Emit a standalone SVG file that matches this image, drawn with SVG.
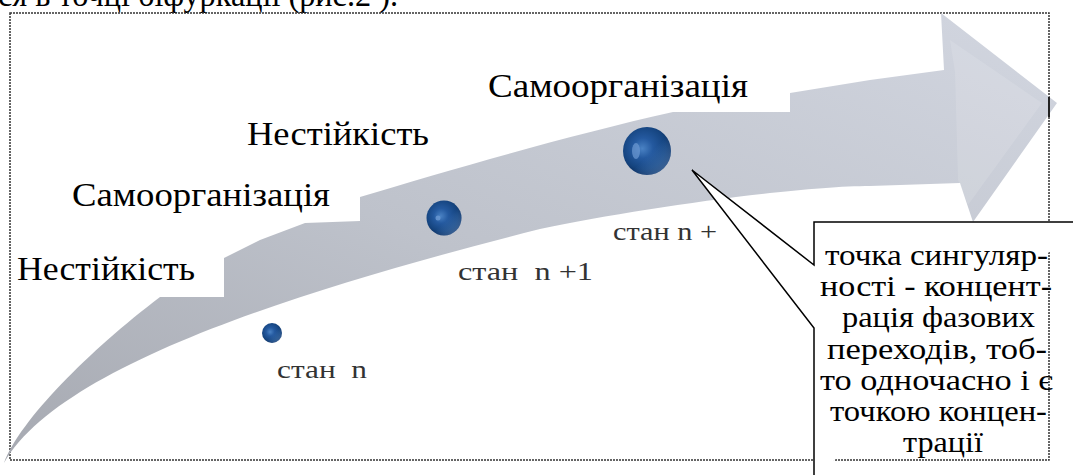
<svg xmlns="http://www.w3.org/2000/svg" width="1073" height="475" viewBox="0 0 1073 475">
  <defs>
    <style>
      text { font-family: "Liberation Serif", "DejaVu Serif", "Noto Serif", "Tinos", serif; }
      .big { font-size: 33px; fill: #000; }
      .small { font-size: 26px; fill: #333; white-space: pre; }
      .call { font-size: 29px; fill: #000; }
      .frame { fill: none; stroke: #333; stroke-width: 1.5; stroke-dasharray: 2 1; }
    </style>
    <linearGradient id="arrowGrad" x1="0" y1="1" x2="1" y2="0">
      <stop offset="0" stop-color="#a6a9b1"/>
      <stop offset="0.45" stop-color="#bec2cb"/>
      <stop offset="1" stop-color="#d2d6e0"/>
    </linearGradient>
    <radialGradient id="ball" cx="0.45" cy="0.42" r="0.6" fx="0.4" fy="0.45">
      <stop offset="0" stop-color="#4a82c4"/>
      <stop offset="0.35" stop-color="#24599f"/>
      <stop offset="0.75" stop-color="#15447f"/>
      <stop offset="1" stop-color="#0c2d5c"/>
    </radialGradient>
    <linearGradient id="rim" x1="0" y1="0" x2="1" y2="1">
      <stop offset="0.55" stop-color="#6fa3e0" stop-opacity="0"/>
      <stop offset="1" stop-color="#8ab8ee" stop-opacity="0.55"/>
    </linearGradient>
  </defs>

  <!-- partially cut text line at top -->
  <text class="big" x="-2" y="6" font-size="30" textLength="400" lengthAdjust="spacingAndGlyphs">ся в точці біфуркації (рис.2 ).</text>

  <!-- frame -->
  <g id="frame">
    <rect class="frame" x="10" y="13" width="1039" height="447"/>
  </g>

  <!-- arrow -->
  <g id="arrow">
    <path fill="url(#arrowGrad)" d="M4,463 C20,420 90,350 160,297 L224,297 L224,258 L260,240 L305,223 L360,221 L360,197 C450,170 570,135 673,112 L790,112 L790,93 L870,80 L944,70 L941,13 L1057,103 L973,222 L960,183 L870,186 C800,186 640,208 540,229 C300,290 60,365 4,463 Z"/>
    <path fill="#ffffff" fill-opacity="0.12" d="M950,40 L1042,103 L968,205 L958,180 L955,72 Z"/>
    <line x1="1049" y1="97" x2="1049" y2="117" stroke="#222" stroke-width="2"/>
  </g>

  <!-- stage labels -->
  <g id="labels">
    <text class="big" x="17" y="280" textLength="178" lengthAdjust="spacingAndGlyphs">Нестійкість</text>
    <text class="big" x="72" y="206" textLength="258" lengthAdjust="spacingAndGlyphs">Самоорганізація</text>
    <text class="big" x="247" y="145" textLength="182" lengthAdjust="spacingAndGlyphs">Нестійкість</text>
    <text class="big" x="488" y="97" textLength="260" lengthAdjust="spacingAndGlyphs">Самоорганізація</text>
  </g>

  <!-- state nodes -->
  <g id="state-n">
    <circle cx="272" cy="333" r="10" fill="url(#ball)"/>
    <circle cx="272" cy="333" r="10" fill="url(#rim)"/>
    <text class="small" x="277" y="378" textLength="90" lengthAdjust="spacingAndGlyphs">стан  n</text>
  </g>
  <g id="state-n1">
    <circle cx="444" cy="218" r="17.5" fill="url(#ball)"/>
    <circle cx="444" cy="218" r="17.5" fill="url(#rim)"/>
    <circle cx="438" cy="218" r="2.5" fill="#6d9ad3" fill-opacity="0.8"/>
    <text class="small" x="458" y="280" textLength="135" lengthAdjust="spacingAndGlyphs">стан  n +1</text>
  </g>
  <g id="state-n2">
    <circle cx="647" cy="151" r="24" fill="url(#ball)"/>
    <circle cx="647" cy="151" r="24" fill="url(#rim)"/>
    <ellipse cx="636" cy="151" rx="4" ry="8" fill="#6d9ad3" fill-opacity="0.7"/>
    <text class="small" x="613" y="240" textLength="104" lengthAdjust="spacingAndGlyphs">стан n +</text>
  </g>

  <!-- callout -->
  <g id="callout">
    <path d="M1080,222 L814,222 L814,265 L692,170 L814,328 L814,480" fill="#ffffff" stroke="#000" stroke-width="1.5"/>
    <text class="call" x="825" y="265" textLength="223" lengthAdjust="spacingAndGlyphs">точка сингуляр-</text>
    <text class="call" x="820" y="296" textLength="232" lengthAdjust="spacingAndGlyphs">ності - концент-</text>
    <text class="call" x="842" y="327" textLength="193" lengthAdjust="spacingAndGlyphs">рація фазових</text>
    <text class="call" x="827" y="359" textLength="220" lengthAdjust="spacingAndGlyphs">переходів, тоб-</text>
    <text class="call" x="820" y="390" textLength="233" lengthAdjust="spacingAndGlyphs">то одночасно і є</text>
    <text class="call" x="830" y="421" textLength="217" lengthAdjust="spacingAndGlyphs">точкою концен-</text>
    <text class="call" x="903" y="452" textLength="80" lengthAdjust="spacingAndGlyphs">трації</text>
  </g>
</svg>
